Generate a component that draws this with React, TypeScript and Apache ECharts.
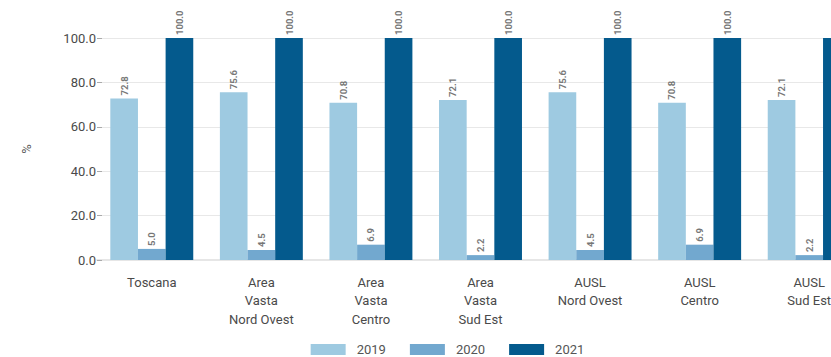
import React, { useEffect, useRef } from "react";
import * as echarts from "echarts";

const categories = [
  "Toscana",
  "Area\nVasta\nNord Ovest",
  "Area\nVasta\nCentro",
  "Area\nVasta\nSud Est",
  "AUSL\nNord Ovest",
  "AUSL\nCentro",
  "AUSL\nSud Est",
];
const seriesNames = ["2019", "2020", "2021"];
const values2019 = [72.8, 75.6, 70.8, 72.1, 75.6, 70.8, 72.1];
const values2020 = [5.0, 4.5, 6.9, 2.2, 4.5, 6.9, 2.2];
const values2021 = [100.0, 100.0, 100.0, 100.0, 100.0, 100.0, 100.0];
const colors = ["#9ECAE1", "#72A8CF", "#045A8D"];
const yTicks = { min: 0, max: 100, interval: 20 };

const FONT = "Roboto, 'Noto Sans', sans-serif";

export default function App() {
  const ref = useRef<HTMLDivElement>(null);
  useEffect(() => {
    if (!ref.current) return;
    const chart = echarts.init(ref.current, undefined, { renderer: "svg" });
    const data = [values2019, values2020, values2021];
    chart.setOption({
      animation: false,
      textStyle: { fontFamily: FONT },
      grid: { left: 97, right: 31, top: 38, bottom: 97, containLabel: false },
      legend: {
        data: seriesNames,
        left: "center",
        top: 338,
        icon: "rect",
        itemWidth: 35,
        itemHeight: 11,
        itemGap: 24,
        textStyle: { fontSize: 13, color: "#555", fontFamily: FONT, padding: [0, 0, 0, 6] },
      },
      xAxis: {
        type: "category",
        data: categories,
        axisLine: { show: true, lineStyle: { color: "#e6e6e6", width: 2 } },
        axisTick: { show: false },
        axisLabel: {
          fontSize: 13,
          color: "#4a4a4a",
          lineHeight: 18.5,
          margin: 13,
          interval: 0,
          fontFamily: FONT,
        },
      },
      yAxis: {
        type: "value",
        min: yTicks.min,
        max: yTicks.max,
        interval: yTicks.interval,
        name: "%",
        nameLocation: "middle",
        nameRotate: 90,
        nameGap: 64,
        nameTextStyle: { fontSize: 13, color: "#555", fontFamily: FONT },
        axisLine: { show: false },
        axisTick: { show: true, inside: true, length: 5, lineStyle: { color: "#aaa" } },
        axisLabel: {
          fontSize: 13,
          color: "#4a4a4a",
          margin: 1,
          fontFamily: FONT,
          formatter: (v: number) => v.toFixed(1),
        },
        splitLine: { lineStyle: { color: "#e8e8e8", width: 1 } },
      },
      series: seriesNames.map((name, i) => ({
        name,
        type: "bar",
        data: data[i],
        barGap: "0%",
        barCategoryGap: "24.3%",
        itemStyle: { color: colors[i] },
        label: {
          show: true,
          position: "top",
          rotate: 90,
          align: "left",
          verticalAlign: "middle",
          distance: 3,
          fontSize: 9.5,
          fontWeight: "bold",
          color: "#777",
          fontFamily: FONT,
          formatter: (p: any) => Number(p.value).toFixed(1),
        },
      })),
    });
    return () => chart.dispose();
  }, []);
  return (
    <div style={{ position: "fixed", left: 0, top: 0, width: 831, height: 357, overflow: "hidden", background: "#fff" }}>
      <div ref={ref} style={{ width: 895, height: 357 }} />
    </div>
  );
}
